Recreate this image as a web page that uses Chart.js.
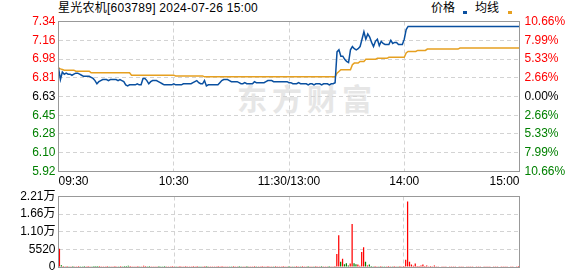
<!DOCTYPE html>
<html>
<head>
<meta charset="utf-8">
<script src="https://cdn.jsdelivr.net/npm/chart.js@4.4.1/dist/chart.umd.min.js"></script>
<style>
  body { margin: 0; background: #fff; }
  #wrap { position: relative; width: 578px; height: 276px; overflow: hidden; font-family: "Liberation Sans", Arial, "Noto Sans CJK SC", sans-serif; }
  #wm { position: absolute; left: 237px; top: 80px; font: bold 30px "Noto Sans CJK SC", sans-serif; letter-spacing: 5px; color: #e6e6e6; line-height: 34px; white-space: nowrap; }
  #title { position: absolute; left: 58px; top: 0; font-size: 12px; line-height: 16px; letter-spacing: 0.25px; color: #000; white-space: nowrap; }
  .lg { position: absolute; top: 0; font-size: 12px; line-height: 16px; color: #000; white-space: nowrap; }
  .sq { position: absolute; top: 11px; width: 4px; height: 3px; }
  canvas { position: absolute; left: 0; }
</style>
</head>
<body>
<div id="wrap">
  <div id="wm">东方财富</div>
  <div id="title">星光农机[603789] 2024-07-26 15:00</div>
  <span class="lg" style="left:431px">价格</span>
  <span class="sq" style="left:463px;background:#0a50a0"></span>
  <span class="lg" style="left:475px">均线</span>
  <span class="sq" style="left:508px;background:#e6a020"></span>
  <canvas id="price-chart" width="578" height="190" style="top:0"></canvas>
  <canvas id="vol-chart" width="578" height="90" style="top:186px"></canvas>
</div>
<script>
// ==========================
// DATA
// ==========================
var prevClose = 6.63;
var maxPct = 10.66;

var price = [
  6.90, 6.79, 6.86, 6.84, 6.85, 6.84, 6.84, 6.83, 6.84, 6.85,
  6.85, 6.84, 6.83, 6.82, 6.82, 6.82, 6.82, 6.81, 6.80, 6.78,
  6.75, 6.77, 6.78, 6.79, 6.79, 6.79, 6.78, 6.79, 6.79, 6.79,
  6.79, 6.78, 6.79, 6.78, 6.77, 6.74, 6.73, 6.74, 6.74, 6.74,
  6.74, 6.75, 6.74, 6.74, 6.80, 6.80, 6.78, 6.75, 6.77, 6.78,
  6.78, 6.78, 6.77, 6.76, 6.75, 6.74, 6.74, 6.74, 6.74, 6.74,
  6.75, 6.74, 6.74, 6.74, 6.74, 6.75, 6.75, 6.75, 6.75, 6.75,
  6.76, 6.77, 6.78, 6.76, 6.75, 6.75, 6.78, 6.73, 6.74, 6.74,
  6.74, 6.74, 6.74, 6.74, 6.76, 6.78, 6.79, 6.79, 6.79, 6.78,
  6.77, 6.77, 6.77, 6.77, 6.76, 6.75, 6.75, 6.76, 6.75, 6.75,
  6.75, 6.75, 6.77, 6.76, 6.76, 6.76, 6.76, 6.76, 6.77, 6.78,
  6.78, 6.78, 6.77, 6.77, 6.77, 6.77, 6.77, 6.77, 6.77, 6.77,
  6.76, 6.76, 6.75, 6.75, 6.75, 6.76, 6.75, 6.75, 6.75, 6.75,
  6.74, 6.75, 6.75, 6.74, 6.75, 6.75, 6.75, 6.74, 6.75, 6.75,
  6.75, 6.74, 6.75, 6.75, 6.76, 7.05, 7.07, 7.01, 7.01, 6.98,
  6.96, 6.95, 7.07, 7.10, 7.08, 7.07, 7.08, 7.10, 7.17, 7.24,
  7.17, 7.22, 7.19, 7.14, 7.10, 7.15, 7.17, 7.11, 7.15, 7.13,
  7.12, 7.12, 7.12, 7.16, 7.13, 7.14, 7.14, 7.12, 7.12, 7.12,
  7.17, 7.26, 7.29, 7.29, 7.29, 7.29, 7.29, 7.29, 7.29, 7.29,
  7.29, 7.29, 7.29, 7.29, 7.29, 7.29, 7.29, 7.29, 7.29, 7.29,
  7.29, 7.29, 7.29, 7.29, 7.29, 7.29, 7.29, 7.29, 7.29, 7.29,
  7.29, 7.29, 7.29, 7.29, 7.29, 7.29, 7.29, 7.29, 7.29, 7.29,
  7.29, 7.29, 7.29, 7.29, 7.29, 7.29, 7.29, 7.29, 7.29, 7.29,
  7.29, 7.29, 7.29, 7.29, 7.29, 7.29, 7.29, 7.29, 7.29, 7.29,
  7.29
];

var avgPrice = [
  6.900, 6.890, 6.885, 6.878, 6.878, 6.878, 6.878, 6.878, 6.878, 6.869,
  6.869, 6.869, 6.869, 6.869, 6.869, 6.869, 6.869, 6.853, 6.853, 6.853,
  6.853, 6.853, 6.853, 6.853, 6.853, 6.853, 6.853, 6.853, 6.853, 6.853,
  6.853, 6.853, 6.853, 6.853, 6.853, 6.853, 6.853, 6.853, 6.831, 6.831,
  6.831, 6.831, 6.831, 6.831, 6.831, 6.831, 6.831, 6.831, 6.831, 6.831,
  6.831, 6.831, 6.831, 6.831, 6.831, 6.831, 6.831, 6.831, 6.831, 6.831,
  6.831, 6.824, 6.824, 6.824, 6.824, 6.824, 6.824, 6.824, 6.824, 6.824,
  6.824, 6.824, 6.824, 6.824, 6.824, 6.824, 6.815, 6.815, 6.815, 6.815,
  6.815, 6.815, 6.815, 6.815, 6.815, 6.815, 6.815, 6.815, 6.815, 6.815,
  6.815, 6.815, 6.815, 6.815, 6.815, 6.815, 6.815, 6.815, 6.815, 6.815,
  6.815, 6.815, 6.815, 6.815, 6.815, 6.815, 6.815, 6.815, 6.815, 6.815,
  6.815, 6.815, 6.815, 6.815, 6.815, 6.815, 6.815, 6.815, 6.815, 6.815,
  6.815, 6.815, 6.815, 6.815, 6.815, 6.815, 6.815, 6.815, 6.815, 6.815,
  6.815, 6.815, 6.815, 6.815, 6.815, 6.815, 6.815, 6.815, 6.815, 6.815,
  6.815, 6.815, 6.815, 6.815, 6.815, 6.850, 6.866, 6.882, 6.882, 6.882,
  6.882, 6.882, 6.882, 6.930, 6.945, 6.945, 6.945, 6.960, 6.960, 6.960,
  6.980, 6.980, 6.980, 6.980, 6.980, 6.980, 6.990, 6.990, 6.990, 6.990,
  6.990, 6.990, 7.000, 7.000, 7.000, 7.000, 7.000, 7.000, 7.000, 7.000,
  7.000, 7.040, 7.054, 7.054, 7.054, 7.054, 7.054, 7.064, 7.064, 7.064,
  7.064, 7.064, 7.077, 7.077, 7.077, 7.077, 7.077, 7.077, 7.077, 7.077,
  7.077, 7.077, 7.077, 7.077, 7.077, 7.077, 7.077, 7.077, 7.077, 7.086,
  7.086, 7.086, 7.086, 7.086, 7.086, 7.086, 7.086, 7.086, 7.086, 7.086,
  7.086, 7.086, 7.086, 7.086, 7.086, 7.086, 7.086, 7.086, 7.086, 7.086,
  7.086, 7.086, 7.086, 7.086, 7.086, 7.086, 7.086, 7.086, 7.086, 7.086,
  7.086
];

var volume = [
  5700, 550, 300, 250, 300, 200, 250, 300, 250, 200,
  300, 250, 200, 300, 250, 300, 200, 250, 300, 350,
  350, 300, 250, 200, 250, 300, 200, 250, 200, 300,
  250, 200, 300, 250, 300, 350, 400, 300, 250, 200,
  250, 300, 200, 250, 400, 300, 250, 300, 250, 200,
  250, 200, 300, 250, 200, 300, 250, 200, 250, 300,
  250, 200, 250, 300, 200, 250, 300, 200, 250, 200,
  300, 250, 300, 250, 200, 250, 350, 300, 250, 200,
  250, 200, 250, 300, 250, 300, 250, 200, 250, 200,
  250, 300, 200, 250, 300, 250, 200, 250, 300, 200,
  250, 200, 300, 250, 200, 250, 300, 200, 250, 300,
  250, 200, 250, 300, 200, 250, 200, 300, 250, 200,
  300, 250, 200, 250, 300, 200, 250, 300, 200, 250,
  300, 250, 200, 250, 300, 200, 250, 300, 250, 200,
  250, 300, 200, 250, 300, 4080, 9920, 1660, 2570, 850,
  1150, 500, 1060, 13460, 1150, 850, 750, 400, 4690, 6200,
  1660, 450, 750, 350, 250, 300, 200, 250, 300, 250,
  200, 250, 300, 200, 250, 300, 250, 200, 300, 250,
  300, 2270, 20500, 1660, 760, 400, 1060, 350, 300, 450,
  760, 300, 500, 250, 300, 250, 500, 250, 200, 0,
  250, 200, 250, 0, 200, 250, 200, 250, 0, 200,
  250, 200, 0, 250, 200, 250, 200, 0, 250, 200,
  250, 0, 200, 250, 200, 250, 0, 200, 250, 200,
  0, 250, 200, 250, 200, 0, 250, 200, 0, 250,
  300
];

var priceTickLabels = ['5.92', '6.10', '6.28', '6.45', '6.63', '6.81', '6.98', '7.16', '7.34'];
var pctTickLabels   = ['10.66%', '7.99%', '5.33%', '2.66%', '0.00%', '2.66%', '5.33%', '7.99%', '10.66%'];
var volTickValues   = [0, 5520, 11040, 16560, 22080];
var volTickLabels   = ['0', '5520', '1.10万', '1.66万', '2.21万'];
var timeTickIndex   = [0, 60, 120, 180, 240];
var timeTickLabels  = ['09:30', '10:30', '11:30/13:00', '14:00', '15:00'];

// ==========================
// HELPERS
// ==========================
var RED = '#ff0000', GREEN = '#008000', BLACK = '#000000';
var GRID = '#d3d3d3';
var FONT = { family: '"Liberation Sans", Arial, "Noto Sans CJK SC", sans-serif', size: 12, lineHeight: 1.2 };

// minute labels of the session: 09:30-11:30, 13:01-15:00
var times = [];
function pad(n) { return (n < 10 ? '0' : '') + n; }
for (var m = 9 * 60 + 30; m <= 11 * 60 + 30; m++) times.push(pad(Math.floor(m / 60)) + ':' + pad(m % 60));
for (var m2 = 13 * 60 + 1; m2 <= 15 * 60; m2++) times.push(pad(Math.floor(m2 / 60)) + ':' + pad(m2 % 60));

var priceMin = prevClose * (1 - maxPct / 100);
var priceMax = prevClose * (1 + maxPct / 100);
var priceTickValues = priceTickLabels.map(function(l, k) {
  return priceMin + k * (priceMax - priceMin) / (priceTickLabels.length - 1);
});

function sideColor(ctx) {
  var mid = (priceTickLabels.length - 1) / 2;
  if (ctx.index < mid) return GREEN;
  if (ctx.index > mid) return RED;
  return BLACK;
}

var barColors = volume.map(function(v, i) {
  var before = i === 0 ? prevClose : price[i - 1];
  return price[i] >= before ? RED : GREEN;
});

var boxBorder = {
  id: 'boxBorder',
  afterDraw: function(chart) {
    var a = chart.chartArea, c = chart.ctx;
    c.save();
    c.strokeStyle = '#999';
    c.lineWidth = 1;
    c.strokeRect(Math.floor(a.left) + 0.5, Math.floor(a.top) + 0.5,
                 Math.round(a.right - a.left), Math.round(a.bottom - a.top));
    c.restore();
  }
};

function innerOnly(count) {
  return function(ctx) {
    return (ctx.index > 0 && ctx.index < count - 1) ? GRID : 'transparent';
  };
}

// ==========================
// PRICE CHART
// ==========================
new Chart(document.getElementById('price-chart'), {
  type: 'line',
  data: {
    labels: times,
    datasets: [
      { data: price,    borderColor: '#0a50a0', borderWidth: 1.5, pointRadius: 0, tension: 0, fill: false, yAxisID: 'y' },
      { data: avgPrice, borderColor: '#e6a020', borderWidth: 1.5, pointRadius: 0, tension: 0, fill: false, yAxisID: 'y' }
    ]
  },
  options: {
    responsive: false,
    animation: false,
    events: [],
    layout: { padding: { top: 21.5, left: 0, right: 0, bottom: 0 } },
    plugins: { legend: { display: false }, tooltip: { enabled: false } },
    scales: {
      x: {
        offset: false,
        grid: { color: innerOnly(timeTickIndex.length), drawTicks: false, lineWidth: 1 },
        border: { display: false, dash: [4, 3] },
        afterBuildTicks: function(s) { s.ticks = timeTickIndex.map(function(v) { return { value: v }; }); },
        ticks: {
          autoSkip: false, maxRotation: 0, align: 'inner', padding: 3,
          color: BLACK, font: FONT,
          callback: function(v, i) { return timeTickLabels[i]; }
        },
        afterFit: function(s) { s.height = 18.5; }
      },
      y: {
        position: 'left',
        min: priceMin, max: priceMax,
        grid: { color: innerOnly(priceTickLabels.length), drawTicks: false },
        border: { display: false, dash: [4, 3] },
        afterBuildTicks: function(s) { s.ticks = priceTickValues.map(function(v) { return { value: v }; }); },
        ticks: {
          autoSkip: false, padding: 3, font: FONT, color: sideColor,
          callback: function(v, i) { return priceTickLabels[i]; }
        },
        afterFit: function(s) { s.width = 58.5; }
      },
      y2: {
        position: 'right',
        min: priceMin, max: priceMax,
        grid: { drawOnChartArea: false, drawTicks: false },
        border: { display: false },
        afterBuildTicks: function(s) { s.ticks = priceTickValues.map(function(v) { return { value: v }; }); },
        ticks: {
          autoSkip: false, padding: 5, font: FONT, color: sideColor,
          callback: function(v, i) { return pctTickLabels[i]; }
        },
        afterFit: function(s) { s.width = 58.5; }
      }
    }
  },
  plugins: [boxBorder]
});

// ==========================
// VOLUME CHART
// ==========================
new Chart(document.getElementById('vol-chart'), {
  type: 'bar',
  data: {
    labels: times,
    datasets: [{
      data: volume,
      backgroundColor: barColors,
      borderWidth: 0,
      barPercentage: 0.65,
      categoryPercentage: 1
    }]
  },
  options: {
    responsive: false,
    animation: false,
    events: [],
    layout: { padding: { top: 10.5, left: 0, right: 58.5, bottom: 7 } },
    plugins: { legend: { display: false }, tooltip: { enabled: false } },
    scales: {
      x: {
        offset: true,
        grid: { offset: false, color: innerOnly(timeTickIndex.length), drawTicks: false },
        border: { display: false, dash: [4, 3] },
        afterBuildTicks: function(s) { s.ticks = timeTickIndex.map(function(v) { return { value: v }; }); },
        ticks: { display: false },
        afterFit: function(s) { s.height = 0; }
      },
      y: {
        min: 0, max: volTickValues[volTickValues.length - 1],
        grid: { color: innerOnly(volTickValues.length), drawTicks: false },
        border: { display: false, dash: [4, 3] },
        afterBuildTicks: function(s) { s.ticks = volTickValues.map(function(v) { return { value: v }; }); },
        ticks: {
          autoSkip: false, padding: 3, color: BLACK,
          font: { family: FONT.family, size: 12, lineHeight: 1 },
          callback: function(v, i) { return volTickLabels[i]; }
        },
        afterFit: function(s) { s.width = 58.5; }
      }
    }
  },
  plugins: [boxBorder]
});
</script>
</body>
</html>
